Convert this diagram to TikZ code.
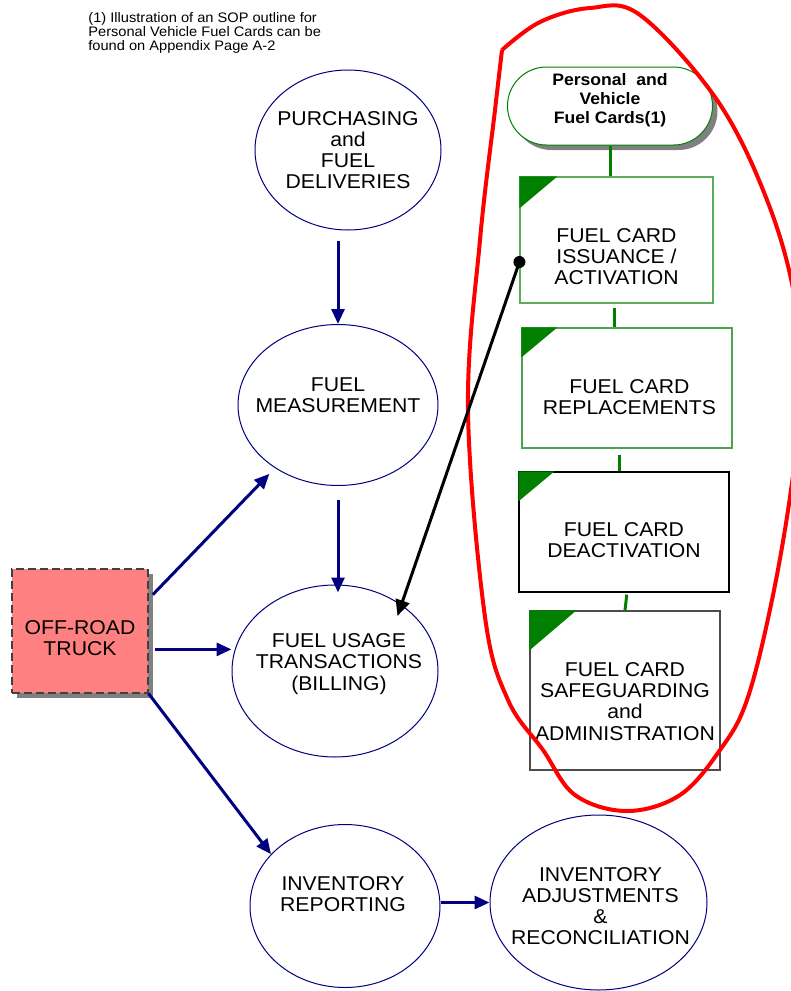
\documentclass[tikz,border=0pt]{standalone}
\usepackage{fontspec}
\setmainfont{Liberation Sans}[FakeStretch=1.06]
\usetikzlibrary{arrows.meta,shapes.geometric,shapes.misc,shadows}

\definecolor{navyline}{HTML}{000080}
\definecolor{cardgreen}{HTML}{007F00}
\definecolor{lightgreen}{HTML}{5CAD5C}
\definecolor{truckfill}{HTML}{FF8080}

\tikzset{
	proc/.style={ellipse, draw=navyline, line width=0.5pt, fill=white, inner sep=0pt},
	card/.style={rectangle, line width=0.6pt, fill=white, inner sep=0pt},
	tag/.style={align=center, inner sep=0pt, font=\fontsize{10}{10.6}\selectfont},
	flow/.style={-{Triangle[length=7.5pt,width=6.5pt]}, navyline, line width=1.5pt},
	link/.style={cardgreen, line width=1.5pt},
	grayshadow/.style={drop shadow={shadow xshift=2.5pt, shadow yshift=-2.5pt, fill=gray, opacity=1}},
}

\begin{document}
\begin{tikzpicture}[x=0.5pt,y=-0.5pt]
	\useasboundingbox (0,0) rectangle (791,991);
	\node[anchor=north west, align=left, inner sep=0pt, font=\fontsize{6.9}{7}\selectfont] (note) at (88,12) {(1) Illustration of an SOP outline for\\Personal Vehicle Fuel Cards can be\\found on Appendix Page A-2};

	\node[proc, minimum width=93pt, minimum height=80pt] (purch) at (348,150) {};
	\node[proc, minimum width=100pt, minimum height=80.5pt] (meas) at (338,405) {};
	\node[proc, minimum width=103pt, minimum height=86pt] (usage) at (335,671) {};
	\node[proc, minimum width=95pt, minimum height=81.5pt] (invrep) at (345,906) {};
	\node[proc, minimum width=108.5pt, minimum height=87.5pt] (adj) at (598.5,902.5) {};
	\node[card, draw=black!75, dash pattern=on 4pt off 2pt, fill=truckfill, grayshadow, minimum width=68pt, minimum height=62pt] (truck) at (80,631) {};
	\node[tag] (purch-t) at (purch) {PURCHASING\\and\\FUEL\\DELIVERIES};
	\node[tag] (meas-t) at ([yshift=4.75pt]meas) {FUEL\\MEASUREMENT};
	\node[tag] (usage-t) at ([xshift=2pt,yshift=3.5pt]usage) {FUEL USAGE\\TRANSACTIONS\\(BILLING)};
	\node[tag] (invrep-t) at ([xshift=-1pt,yshift=6pt]invrep) {INVENTORY\\REPORTING};
	\node[tag] (adj-t) at ([xshift=1pt,yshift=-1.75pt]adj) {INVENTORY\\ADJUSTMENTS\\\&\\RECONCILIATION};
	\node[tag] (truck-t) at ([yshift=-3.75pt]truck) {OFF-ROAD\\TRUCK};

	\node[rounded rectangle, draw=cardgreen, line width=0.5pt, fill=white, grayshadow, minimum width=102.5pt, minimum height=39pt, inner sep=0pt] (pvc) at (610,106) {};
	\node[card, draw=lightgreen, minimum width=96.5pt, minimum height=63pt] (issue) at (616.5,240) {};
	\node[card, draw=cardgreen!70, minimum width=105pt, minimum height=60pt] (repl) at (627,388) {};
	\node[card, draw=black, minimum width=105pt, minimum height=60pt] (deact) at (624,532) {};
	\node[card, draw=black!70, minimum width=95pt, minimum height=79.5pt] (safe) at (625,690.5) {};
	\fill[cardgreen] (issue.north west) -- ++(38,0) -- ++(-38,32) -- cycle;
	\fill[cardgreen] (repl.north west) -- ++(36,0) -- ++(-36,30) -- cycle;
	\fill[cardgreen] (deact.north west) -- ++(36,0) -- ++(-36,30) -- cycle;
	\fill[cardgreen] (safe.north west) -- ++(47,0) -- ++(-47,40) -- cycle;
	\node[tag, font=\bfseries\fontsize{8.3}{9.5}\selectfont] (pvc-t) at ([yshift=3pt]pvc) {Personal\ \ and\\Vehicle\\Fuel Cards(1)};
	\node[tag] (issue-t) at ([yshift=-8.25pt]issue) {FUEL CARD\\ISSUANCE /\\ACTIVATION};
	\node[tag] (repl-t) at ([xshift=1.25pt,yshift=-4.75pt]repl) {FUEL CARD\\REPLACEMENTS};
	\node[tag] (deact-t) at ([yshift=-4.25pt]deact) {FUEL CARD\\DEACTIVATION};
	\node[tag] (safe-t) at ([yshift=-5.5pt]safe) {FUEL CARD\\SAFEGUARDING\\and\\ADMINISTRATION};

	\draw[link] (pvc.south) -- (pvc.south |- issue.north);
	\draw[link, shorten <=2pt] ([xshift=-1pt]issue.south) -- ([xshift=-1pt]issue.south |- repl.north);
	\draw[link, shorten <=3pt] ([xshift=-4pt]repl.south) -- ([xshift=-4pt]repl.south |- deact.north);
	\draw[link, shorten <=1pt] ([xshift=1.5pt]deact.south) -- ([xshift=0.5pt]deact.south |- safe.north);

	\draw[flow, shorten <=5pt] (meas.north |- purch.south) -- (meas.north);
	\draw[flow, shorten <=7pt, shorten >=-4pt] (meas.south) -- (meas.south |- usage.north);
	\draw[flow, shorten <=3pt, shorten >=4pt] (truck.25) -- (meas.225);
	\draw[flow, shorten <=3pt] (truck.-15) -- (truck.-15 -| usage.west);
	\draw[flow] (truck.south east) -- (invrep.145);
	\draw[flow] (adj.west -| invrep.east) -- (adj.west);

	\draw[red, line width=2pt, line join=round] plot[smooth, tension=0.6] coordinates {(502,50) (540,22) (590,8) (640,15) (717,100) (767,200) (795,300) (800,400) (791,490) (772,600) (747,700) (720,750) (680,795) (627,811) (575,795) (543,750) (508,700) (485,617) (468,410) (480,240) (495,110) (502,50)};

	\coordinate (dot) at ([yshift=-11pt]issue.west);
	\fill (dot) circle (3pt);
	\draw[-{Triangle[length=8pt,width=7pt]}, line width=1.5pt, shorten >=-6pt] (dot) -- (usage.45);
\end{tikzpicture}
\end{document}
